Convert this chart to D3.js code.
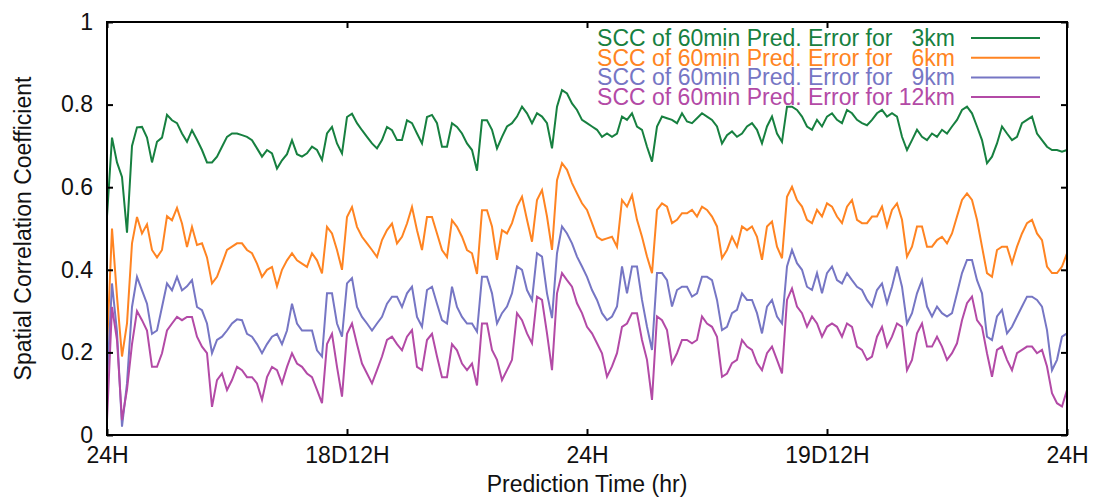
<!DOCTYPE html>
<html>
<head>
<meta charset="utf-8">
<script src="https://cdn.jsdelivr.net/npm/d3@7"></script>
<style>
  html, body { margin: 0; padding: 0; background: #fff; }
  svg text { font-family: "Liberation Sans", Arial, sans-serif; }
</style>
</head>
<body>
<svg id="chart" width="1093" height="498"></svg>
<script>
// ---- data (prediction hours 0..48, one value every 0.25 h) ----
const timeStep = 0.25;
const xTickHours = [0, 12, 24, 36, 48];
const xTickLabels = ["24H", "18D12H", "24H", "19D12H", "24H"];
const yTicks = [0, 0.2, 0.4, 0.6, 0.8, 1];
const seriesNames = [
  "SCC of 60min Pred. Error for   3km",
  "SCC of 60min Pred. Error for   6km",
  "SCC of 60min Pred. Error for   9km",
  "SCC of 60min Pred. Error for 12km"
];
const scc3km = [
  0.53,0.72,0.66,0.625, 0.49,0.70,0.745,0.746, 0.72,0.66,0.71,0.72, 0.775,0.762,0.755,0.73,
  0.71,0.738,0.715,0.69, 0.66,0.66,0.674,0.698, 0.722,0.73,0.73,0.726, 0.722,0.714,0.694,0.674,
  0.69,0.682,0.645,0.665, 0.68,0.714,0.68,0.674, 0.682,0.698,0.69,0.666, 0.73,0.746,0.706,0.682,
  0.77,0.778,0.755,0.738, 0.722,0.706,0.694,0.714, 0.746,0.738,0.714,0.714, 0.762,0.755,0.73,0.706,
  0.77,0.775,0.755,0.698, 0.698,0.755,0.746,0.73, 0.706,0.69,0.64,0.762, 0.762,0.739,0.694,0.722,
  0.747,0.755,0.771,0.795, 0.779,0.755,0.779,0.771, 0.755,0.694,0.795,0.835, 0.827,0.803,0.787,0.763,
  0.755,0.747,0.739,0.722, 0.73,0.722,0.73,0.771, 0.763,0.779,0.747,0.739, 0.698,0.662,0.747,0.771,
  0.767,0.763,0.755,0.779, 0.759,0.755,0.767,0.779, 0.771,0.763,0.747,0.706, 0.726,0.735,0.722,0.73,
  0.747,0.755,0.739,0.706, 0.747,0.771,0.73,0.71, 0.795,0.795,0.787,0.771, 0.747,0.739,0.763,0.747,
  0.771,0.779,0.763,0.755, 0.787,0.779,0.763,0.755, 0.75,0.763,0.779,0.787, 0.771,0.779,0.771,0.722,
  0.69,0.714,0.739,0.722, 0.714,0.73,0.722,0.739, 0.73,0.747,0.763,0.787, 0.795,0.779,0.747,0.714,
  0.658,0.674,0.706,0.747, 0.73,0.714,0.722,0.755, 0.763,0.771,0.73,0.714, 0.698,0.69,0.69,0.686,
  0.69
];
const scc6km = [
  0.21,0.50,0.335,0.19, 0.27,0.464,0.528,0.488, 0.51,0.448,0.43,0.448, 0.53,0.52,0.55,0.512,
  0.455,0.504,0.46,0.464, 0.43,0.367,0.383,0.415, 0.448,0.456,0.464,0.464, 0.448,0.44,0.415,0.383,
  0.40,0.407,0.36,0.40, 0.423,0.44,0.423,0.415, 0.407,0.44,0.423,0.391, 0.504,0.488,0.448,0.40,
  0.528,0.552,0.504,0.48, 0.464,0.448,0.431,0.472, 0.496,0.512,0.464,0.48, 0.512,0.552,0.496,0.448,
  0.528,0.528,0.488,0.448, 0.431,0.52,0.504,0.48, 0.448,0.44,0.39,0.544, 0.544,0.505,0.424,0.496,
  0.488,0.513,0.553,0.577, 0.521,0.468,0.569,0.593, 0.529,0.448,0.617,0.658, 0.642,0.61,0.585,0.561,
  0.545,0.513,0.48,0.472, 0.476,0.48,0.456,0.569, 0.553,0.581,0.521,0.48, 0.432,0.392,0.545,0.561,
  0.553,0.513,0.521,0.537, 0.537,0.545,0.529,0.553, 0.545,0.529,0.505,0.428, 0.448,0.48,0.456,0.505,
  0.496,0.505,0.48,0.424, 0.505,0.517,0.456,0.428, 0.577,0.601,0.569,0.553, 0.521,0.513,0.545,0.529,
  0.561,0.553,0.529,0.513, 0.553,0.569,0.521,0.513, 0.513,0.529,0.529,0.553, 0.505,0.545,0.561,0.521,
  0.432,0.456,0.505,0.505, 0.456,0.456,0.472,0.48, 0.464,0.488,0.529,0.569, 0.585,0.569,0.521,0.456,
  0.392,0.383,0.448,0.456, 0.456,0.416,0.456,0.488, 0.513,0.521,0.488,0.472, 0.408,0.392,0.392,0.408,
  0.44
];
const scc9km = [
  0.125,0.367,0.25,0.02, 0.125,0.31,0.383,0.35, 0.318,0.245,0.253,0.31, 0.367,0.35,0.383,0.35,
  0.36,0.375,0.31,0.302, 0.27,0.198,0.23,0.238, 0.253,0.27,0.28,0.278, 0.245,0.238,0.22,0.198,
  0.22,0.238,0.245,0.22, 0.253,0.318,0.27,0.253, 0.253,0.253,0.205,0.19, 0.343,0.343,0.27,0.238,
  0.367,0.38,0.31,0.286, 0.27,0.253,0.27,0.286, 0.318,0.335,0.335,0.31, 0.343,0.359,0.286,0.262,
  0.351,0.359,0.318,0.278, 0.27,0.359,0.31,0.286, 0.27,0.27,0.25,0.383, 0.383,0.343,0.27,0.295,
  0.311,0.343,0.408,0.40, 0.351,0.327,0.44,0.432, 0.343,0.283,0.44,0.505, 0.488,0.464,0.432,0.408,
  0.383,0.351,0.327,0.295, 0.278,0.287,0.311,0.408, 0.343,0.408,0.408,0.327, 0.262,0.206,0.392,0.392,
  0.375,0.311,0.351,0.359, 0.359,0.335,0.343,0.383, 0.383,0.375,0.327,0.254, 0.262,0.295,0.303,0.343,
  0.327,0.327,0.295,0.246, 0.311,0.327,0.287,0.27, 0.408,0.448,0.416,0.40, 0.359,0.351,0.392,0.343,
  0.392,0.408,0.375,0.367, 0.392,0.375,0.359,0.351, 0.327,0.311,0.351,0.367, 0.319,0.359,0.408,0.359,
  0.27,0.295,0.343,0.375, 0.311,0.287,0.311,0.295, 0.287,0.295,0.343,0.392, 0.424,0.424,0.375,0.343,
  0.238,0.23,0.287,0.303, 0.246,0.262,0.287,0.311, 0.335,0.335,0.327,0.311, 0.254,0.157,0.182,0.238,
  0.246
];
const scc12km = [
  0.036,0.31,0.23,0.036, 0.11,0.22,0.30,0.278, 0.253,0.165,0.165,0.198, 0.253,0.27,0.286,0.278,
  0.286,0.286,0.238,0.214, 0.198,0.068,0.133,0.149, 0.109,0.133,0.165,0.157, 0.14,0.14,0.125,0.085,
  0.14,0.165,0.157,0.125, 0.165,0.198,0.173,0.165, 0.149,0.14,0.109,0.077, 0.22,0.245,0.165,0.093,
  0.245,0.27,0.22,0.173, 0.149,0.125,0.157,0.19, 0.23,0.238,0.22,0.205, 0.238,0.254,0.165,0.157,
  0.23,0.245,0.19,0.14, 0.14,0.22,0.205,0.173, 0.157,0.173,0.12,0.27, 0.27,0.206,0.182,0.133,
  0.157,0.182,0.295,0.278, 0.246,0.222,0.335,0.327, 0.246,0.157,0.343,0.392, 0.375,0.359,0.319,0.295,
  0.262,0.246,0.222,0.198, 0.141,0.166,0.198,0.262, 0.27,0.295,0.295,0.23, 0.182,0.085,0.287,0.278,
  0.254,0.174,0.198,0.23, 0.23,0.222,0.23,0.287, 0.27,0.262,0.238,0.141, 0.149,0.174,0.182,0.23,
  0.214,0.206,0.174,0.157, 0.198,0.214,0.182,0.149, 0.327,0.355,0.311,0.295, 0.262,0.287,0.27,0.238,
  0.262,0.27,0.262,0.238, 0.27,0.262,0.214,0.206, 0.182,0.19,0.238,0.262, 0.214,0.238,0.27,0.262,
  0.157,0.182,0.246,0.27, 0.214,0.214,0.238,0.214, 0.182,0.198,0.222,0.278, 0.319,0.335,0.278,0.262,
  0.198,0.141,0.206,0.214, 0.182,0.157,0.198,0.206, 0.214,0.214,0.198,0.206, 0.166,0.101,0.077,0.069,
  0.109
];
const seriesValues = [scc3km, scc6km, scc9km, scc12km];
const seriesColors = ["#178040", "#ff8422", "#7676c4", "#b34aa6"];

// ---- layout ----
const svg = d3.select("#chart");
const W = 1093, H = 498;
const margin = { left: 107, right: 26, top: 22, bottom: 63 };
const x = d3.scaleLinear().domain([0, 48]).range([margin.left, W - margin.right]);
const y = d3.scaleLinear().domain([0, 1]).range([H - margin.bottom, margin.top]);
const fontSize = 23;

// lines
const line = d3.line()
  .x((d, i) => x(i * timeStep))
  .y(d => y(d));
seriesValues.forEach((vals, k) => {
  svg.append("path")
    .datum(vals)
    .attr("fill", "none")
    .attr("stroke", seriesColors[k])
    .attr("stroke-width", 2)
    .attr("d", line);
});

// axes (ticks drawn inward on all four sides)
const gx = svg.append("g").attr("transform", `translate(0,${y(0)})`)
  .call(d3.axisBottom(x).tickValues(xTickHours).tickSize(-6).tickPadding(12)
    .tickFormat((d, i) => xTickLabels[i]));
const gxt = svg.append("g").attr("transform", `translate(0,${y(1)})`)
  .call(d3.axisTop(x).tickValues(xTickHours).tickSize(-6).tickFormat(""));
const gy = svg.append("g").attr("transform", `translate(${x(0)},0)`)
  .call(d3.axisLeft(y).tickValues(yTicks).tickSize(-6).tickPadding(14)
    .tickFormat(d => (d === 0 || d === 1) ? String(d) : d3.format(".1f")(d)));
const gyr = svg.append("g").attr("transform", `translate(${x(48)},0)`)
  .call(d3.axisRight(y).tickValues(yTicks).tickSize(-6).tickFormat(""));

[gx, gxt, gy, gyr].forEach(g => {
  g.select(".domain").remove();
  g.selectAll("line").attr("stroke", "#000").attr("stroke-width", 2);
  g.selectAll("text").attr("font-size", fontSize).attr("fill", "#111")
    .attr("font-family", "Liberation Sans, Arial, sans-serif");
});

// frame
svg.append("rect")
  .attr("x", x(0)).attr("y", y(1))
  .attr("width", x(48) - x(0)).attr("height", y(0) - y(1))
  .attr("fill", "none").attr("stroke", "#000").attr("stroke-width", 2);

// axis titles
svg.append("text")
  .attr("x", (x(0) + x(48)) / 2).attr("y", 492)
  .attr("text-anchor", "middle").attr("font-size", fontSize).attr("fill", "#111")
  .text("Prediction Time (hr)");
svg.append("text")
  .attr("transform", `translate(31,${(y(0) + y(1)) / 2}) rotate(-90)`)
  .attr("text-anchor", "middle").attr("font-size", fontSize).attr("fill", "#111")
  .text("Spatial Correlation Coefficient");

// legend
const legendRight = 955, legendTop = 46, legendStep = 19.7;
seriesNames.forEach((name, k) => {
  const ly = legendTop + k * legendStep;
  svg.append("text")
    .attr("x", legendRight).attr("y", ly)
    .attr("text-anchor", "end").attr("font-size", fontSize)
    .attr("fill", seriesColors[k])
    .style("white-space", "pre")
    .text(name);
  svg.append("line")
    .attr("x1", 971).attr("x2", 1040)
    .attr("y1", ly - 8).attr("y2", ly - 8)
    .attr("stroke", seriesColors[k]).attr("stroke-width", 2);
});
</script>
</body>
</html>
